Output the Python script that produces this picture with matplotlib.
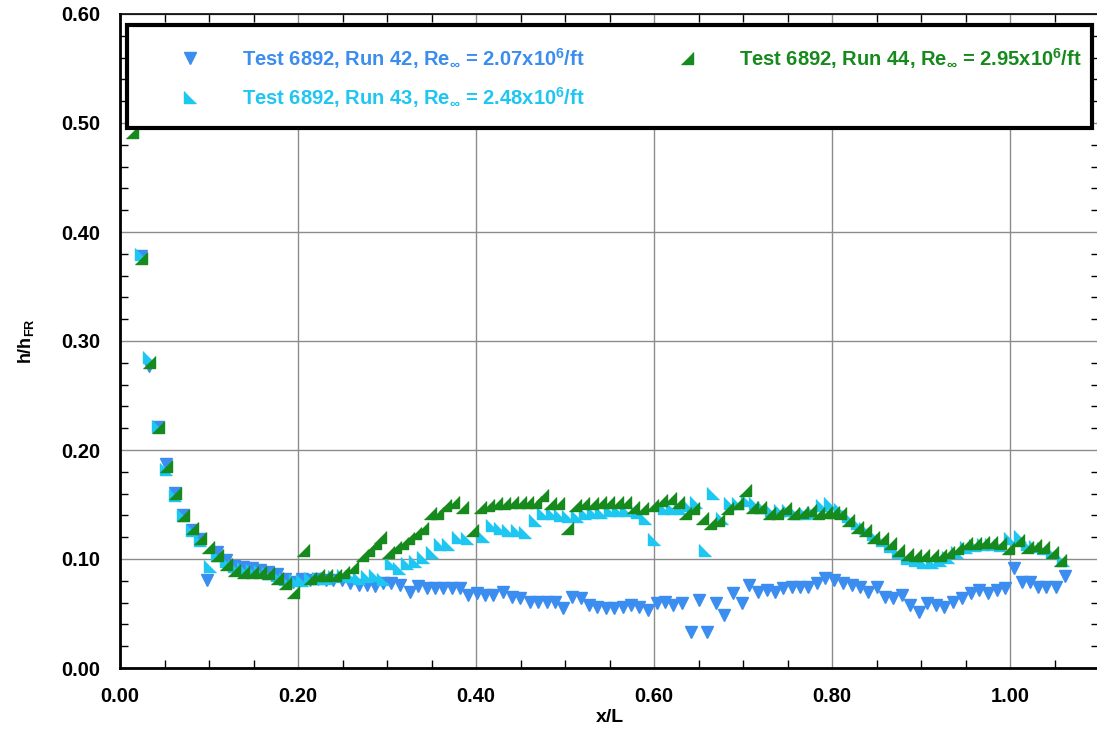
import numpy as np
import matplotlib
matplotlib.use("Agg")
import matplotlib.pyplot as plt
from matplotlib.patches import Rectangle
from matplotlib.ticker import MultipleLocator, FormatStrFormatter

plt.rcParams['font.family'] = ['Liberation Sans', 'DejaVu Sans']
plt.rcParams['font.weight'] = 'bold'
plt.rcParams['mathtext.fontset'] = 'custom'
plt.rcParams['mathtext.rm'] = 'Liberation Sans:bold'
plt.rcParams['mathtext.it'] = 'Liberation Sans:bold'
plt.rcParams['mathtext.bf'] = 'Liberation Sans:bold'

# Run 42 (blue, down triangles)
x42 = [0.024, 0.033, 0.043, 0.052, 0.062, 0.071, 0.081, 0.090, 0.098, 0.109,
       0.119, 0.128, 0.138, 0.148, 0.157, 0.166, 0.176, 0.185, 0.194, 0.205,
       0.213, 0.222, 0.231, 0.239, 0.249, 0.258, 0.268, 0.277, 0.286, 0.296,
       0.305, 0.315, 0.326, 0.335, 0.345, 0.354, 0.363, 0.373, 0.382, 0.391,
       0.401, 0.410, 0.419, 0.430, 0.440, 0.449, 0.461, 0.470, 0.480, 0.489,
       0.498, 0.508, 0.518, 0.527, 0.536, 0.546, 0.555, 0.565, 0.574, 0.583,
       0.593, 0.603, 0.612, 0.621, 0.631, 0.642, 0.651, 0.660, 0.670, 0.679,
       0.689, 0.699, 0.707, 0.717, 0.727, 0.736, 0.745, 0.755, 0.764, 0.773,
       0.783, 0.792, 0.802, 0.812, 0.822, 0.831, 0.840, 0.850, 0.860, 0.869,
       0.879, 0.888, 0.898, 0.907, 0.917, 0.926, 0.936, 0.946, 0.956, 0.965,
       0.975, 0.985, 0.994, 1.004, 1.013, 1.022, 1.032, 1.041, 1.052, 1.062]
y42 = [0.378, 0.277, 0.221, 0.187, 0.161, 0.140, 0.127, 0.118, 0.081, 0.106,
       0.099, 0.094, 0.093, 0.092, 0.090, 0.088, 0.086, 0.082, 0.079, 0.082,
       0.081, 0.082, 0.081, 0.081, 0.081, 0.078, 0.076, 0.076, 0.075, 0.078,
       0.078, 0.076, 0.070, 0.075, 0.073, 0.073, 0.073, 0.073, 0.073, 0.067,
       0.069, 0.067, 0.067, 0.070, 0.065, 0.064, 0.061, 0.061, 0.061, 0.061,
       0.055, 0.065, 0.064, 0.058, 0.056, 0.055, 0.055, 0.056, 0.058, 0.056,
       0.053, 0.060, 0.061, 0.058, 0.060, 0.033, 0.062, 0.033, 0.060, 0.049,
       0.069, 0.060, 0.076, 0.070, 0.072, 0.070, 0.073, 0.074, 0.074, 0.074,
       0.078, 0.083, 0.081, 0.078, 0.076, 0.074, 0.070, 0.074, 0.065, 0.064,
       0.067, 0.058, 0.051, 0.060, 0.058, 0.056, 0.061, 0.064, 0.069, 0.072,
       0.069, 0.072, 0.073, 0.092, 0.079, 0.079, 0.074, 0.074, 0.074, 0.084]

# Run 43 (cyan)
x43 = [0.024, 0.033, 0.043, 0.052, 0.062, 0.071, 0.081, 0.090, 0.101, 0.109,
       0.119, 0.128, 0.138, 0.148, 0.157, 0.166, 0.176, 0.185, 0.197, 0.205,
       0.213, 0.222, 0.231, 0.240, 0.250, 0.259, 0.268, 0.277, 0.287, 0.296,
       0.305, 0.313, 0.322, 0.331, 0.341, 0.350, 0.360, 0.369, 0.380, 0.390,
       0.408, 0.418, 0.427, 0.436, 0.446, 0.455, 0.466, 0.475, 0.485, 0.494,
       0.503, 0.513, 0.522, 0.531, 0.541, 0.551, 0.560, 0.569, 0.581, 0.590,
       0.600, 0.611, 0.620, 0.629, 0.638, 0.647, 0.657, 0.666, 0.676, 0.685,
       0.694, 0.704, 0.713, 0.723, 0.732, 0.742, 0.751, 0.760, 0.770, 0.779,
       0.789, 0.798, 0.809, 0.818, 0.828, 0.837, 0.846, 0.856, 0.865, 0.874,
       0.884, 0.893, 0.902, 0.912, 0.921, 0.930, 0.940, 0.951, 0.961, 0.970,
       0.979, 0.989, 1.000, 1.011, 1.019, 1.028, 1.037, 1.047, 1.060]
y43 = [0.380, 0.285, 0.222, 0.183, 0.159, 0.140, 0.127, 0.117, 0.094, 0.104,
       0.098, 0.094, 0.092, 0.090, 0.089, 0.087, 0.085, 0.082, 0.081, 0.081,
       0.083, 0.083, 0.083, 0.084, 0.085, 0.084, 0.083, 0.084, 0.085, 0.082,
       0.096, 0.092, 0.096, 0.098, 0.102, 0.106, 0.114, 0.114, 0.120, 0.119,
       0.121, 0.131, 0.128, 0.127, 0.127, 0.125, 0.136, 0.142, 0.142, 0.140,
       0.139, 0.139, 0.142, 0.143, 0.143, 0.145, 0.145, 0.145, 0.143, 0.138,
       0.118, 0.147, 0.147, 0.147, 0.150, 0.152, 0.108, 0.161, 0.138, 0.151,
       0.151, 0.154, 0.151, 0.148, 0.145, 0.145, 0.145, 0.142, 0.142, 0.143,
       0.150, 0.151, 0.146, 0.139, 0.133, 0.128, 0.123, 0.117, 0.112, 0.106,
       0.101, 0.099, 0.097, 0.097, 0.099, 0.102, 0.106, 0.111, 0.113, 0.114,
       0.114, 0.113, 0.119, 0.121, 0.114, 0.112, 0.110, 0.106, 0.099]

# Run 44 (green)
x44 = [0.013, 0.024, 0.033, 0.043, 0.052, 0.062, 0.071, 0.081, 0.090, 0.099,
       0.109, 0.119, 0.128, 0.138, 0.148, 0.157, 0.166, 0.176, 0.185, 0.194,
       0.206, 0.213, 0.222, 0.231, 0.242, 0.251, 0.261, 0.272, 0.279, 0.287,
       0.292, 0.301, 0.309, 0.317, 0.324, 0.331, 0.339, 0.348, 0.356, 0.365,
       0.374, 0.384, 0.396, 0.404, 0.413, 0.422, 0.431, 0.440, 0.449, 0.457,
       0.466, 0.474, 0.483, 0.492, 0.502, 0.511, 0.520, 0.530, 0.539, 0.548,
       0.558, 0.567, 0.576, 0.587, 0.598, 0.608, 0.618, 0.627, 0.635, 0.644,
       0.654, 0.663, 0.672, 0.682, 0.693, 0.702, 0.710, 0.719, 0.729, 0.738,
       0.747, 0.756, 0.766, 0.775, 0.784, 0.793, 0.801, 0.809, 0.818, 0.828,
       0.837, 0.846, 0.856, 0.865, 0.874, 0.884, 0.893, 0.902, 0.912, 0.921,
       0.930, 0.940, 0.951, 0.961, 0.970, 0.979, 0.989, 0.998, 1.009, 1.019,
       1.028, 1.037, 1.047, 1.056]
y44 = [0.492, 0.376, 0.281, 0.221, 0.185, 0.161, 0.140, 0.128, 0.119, 0.111,
       0.104, 0.095, 0.090, 0.088, 0.088, 0.088, 0.087, 0.083, 0.078, 0.070,
       0.108, 0.083, 0.085, 0.085, 0.085, 0.088, 0.093, 0.104, 0.108, 0.115,
       0.120, 0.106, 0.111, 0.115, 0.119, 0.124, 0.128, 0.142, 0.142, 0.150,
       0.152, 0.148, 0.127, 0.148, 0.150, 0.151, 0.151, 0.152, 0.152, 0.152,
       0.152, 0.159, 0.151, 0.151, 0.128, 0.150, 0.151, 0.151, 0.152, 0.152,
       0.152, 0.152, 0.148, 0.147, 0.150, 0.154, 0.156, 0.152, 0.142, 0.147,
       0.138, 0.133, 0.136, 0.147, 0.151, 0.163, 0.148, 0.148, 0.142, 0.142,
       0.147, 0.142, 0.143, 0.145, 0.142, 0.143, 0.143, 0.142, 0.136, 0.129,
       0.127, 0.120, 0.119, 0.115, 0.108, 0.105, 0.104, 0.104, 0.104, 0.104,
       0.106, 0.110, 0.115, 0.115, 0.116, 0.116, 0.115, 0.110, 0.117, 0.111,
       0.113, 0.111, 0.106, 0.099]

labels = [r"Test 6892, Run 42, Re$_\infty$ = 2.07x10$^6$/ft",
          r"Test 6892, Run 43, Re$_\infty$ = 2.48x10$^6$/ft",
          r"Test 6892, Run 44, Re$_\infty$ = 2.95x10$^6$/ft"]
colors = ["#3b8def", "#1ec6f2", "#168a1c"]

# marker shapes
tri_lower_left = [(-1, 1), (-1, -1), (1, -1)]
tri_lower_right = [(1, 1), (1, -1), (-1, -1)]


def main():
    fig = plt.figure(figsize=(10.97, 7.30), dpi=100)
    ax = fig.add_axes([120 / 1097, 62 / 730, 979 / 1097, 654 / 730])

    h42, = ax.plot(x42, y42, linestyle="none", marker="v", markersize=8.5,
                   color=colors[0], label=labels[0], zorder=3)
    h43, = ax.plot(x43, y43, linestyle="none", marker=tri_lower_left, markersize=8.5,
                   color=colors[1], label=labels[1], zorder=3)
    h44, = ax.plot(x44, y44, linestyle="none", marker=tri_lower_right, markersize=8.5,
                   color=colors[2], label=labels[2], zorder=3)

    ax.set_xlim(0, 1.1)
    ax.set_ylim(0, 0.6)
    ax.xaxis.set_major_locator(MultipleLocator(0.2))
    ax.xaxis.set_minor_locator(MultipleLocator(0.05))
    ax.yaxis.set_major_locator(MultipleLocator(0.1))
    ax.yaxis.set_minor_locator(MultipleLocator(0.02))
    ax.xaxis.set_major_formatter(FormatStrFormatter("%.2f"))
    ax.yaxis.set_major_formatter(FormatStrFormatter("%.2f"))
    ax.tick_params(which="both", direction="in", top=True, right=True,
                   labelsize=14.5, width=1)
    ax.tick_params(which="major", length=0)
    ax.tick_params(axis="x", which="major", pad=14)
    ax.tick_params(axis="y", which="major", pad=14)
    ax.tick_params(which="minor", length=6)
    ax.grid(True, which="major", color="#8c8c8c", linewidth=1)
    ax.set_axisbelow(True)
    for s in ax.spines.values():
        s.set_linewidth(1.2)
    ax.spines["left"].set_linewidth(2)
    ax.spines["bottom"].set_linewidth(2)

    ax.set_xlabel("x/L", fontsize=14, fontweight="bold", labelpad=2)
    ax.set_ylabel(r"h/h$_{\rm FR}$", fontsize=13, fontweight="bold", labelpad=18)

    # legend box
    box = Rectangle((0.0072, 0.8257), 0.9857, 0.1575, transform=ax.transAxes,
                    facecolor="white", edgecolor="black", linewidth=3, zorder=4)
    ax.add_patch(box)
    leg = ax.legend(handles=[h42, h43, h44], ncol=2, loc="upper left",
                    bbox_to_anchor=(0.0613, 0.951), frameon=False,
                    fontsize=14.5, borderpad=0, borderaxespad=0,
                    handlelength=1.0, handletextpad=2.08, columnspacing=4.58,
                    labelspacing=0.72, labelcolor="markerfacecolor")
    leg.set_zorder(5)

    fig.savefig("out.png", dpi=100)


main()
